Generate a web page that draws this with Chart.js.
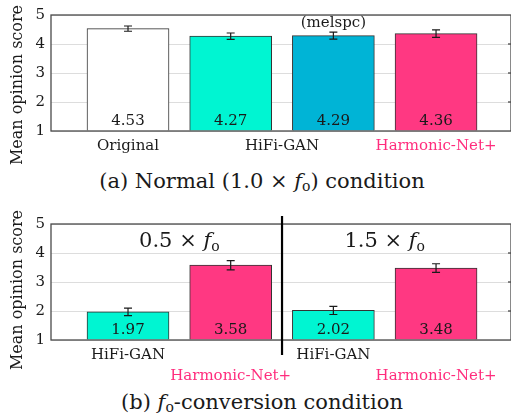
<!DOCTYPE html>
<html>
<head>
<meta charset="utf-8">
<script src="https://cdn.jsdelivr.net/npm/chart.js@4"></script>
<style>
  body { margin: 0; background: #fff; }
  #page { position: relative; width: 511px; height: 415px; overflow: hidden; font-family: "DejaVu Serif", serif; color: #1a1a1a; }
  .box { position: absolute; left: 0; width: 511px; }
  .cap { position: absolute; left: 0; width: 524px; text-align: center; font-size: 21px; line-height: 24px; }
  .cap i { font-style: italic; }
  .cap sub { font-size: 14px; vertical-align: -3px; line-height: 0; }
</style>
</head>
<body>
<div id="page">
  <div class="box" style="top:0;height:165px"><canvas id="normal"></canvas></div>
  <div class="cap" style="top:169px">(a) Normal (1.0 &times; <i>f</i><sub>o</sub>) condition</div>
  <div class="box" style="top:195px;height:195px"><canvas id="conv"></canvas></div>
  <div class="cap" style="top:390px">(b) <i>f</i><sub>o</sub>-conversion condition</div>
</div>
<script>
// values
var normalSystems = ['Original', 'HiFi-GAN', 'HiFi-GAN (melspc)', 'Harmonic-Net+'];
var normalMos = [4.53, 4.27, 4.29, 4.36];
var normalCi = [0.09, 0.11, 0.12, 0.13];

var convSystems = ['HiFi-GAN', 'Harmonic-Net+', 'HiFi-GAN', 'Harmonic-Net+'];
var convMos = [1.97, 3.58, 2.02, 3.48];
var convCi = [0.13, 0.16, 0.14, 0.15];
var convGroups = ['0.5', '1.5'];

var mosTicks = [1, 2, 3, 4, 5];

var FONT = 'DejaVu Serif';
var INK = '#1a1a1a';
var PINK = '#ff2d7d';
var colHifi = '#00f5d2';
var colMel = '#00b4d6';
var colHarm = '#ff3882';

// error bars, value labels and frame
var decorate = {
  id: 'decorate',
  afterDatasetsDraw: function (chart, args, opts) {
    var ctx = chart.ctx, xs = chart.scales.x, ys = chart.scales.y, a = chart.chartArea;
    var vals = chart.data.datasets[0].data;
    ctx.save();
    // frame
    ctx.strokeStyle = '#4a4a4a';
    ctx.lineWidth = 1.3;
    ctx.strokeRect(a.left, a.top, a.right - a.left, a.bottom - a.top);
    mosTicks.slice(1, -1).forEach(function (t) {
      var y = ys.getPixelForValue(t);
      ctx.beginPath();
      ctx.moveTo(a.right - 3, y); ctx.lineTo(a.right, y);
      ctx.stroke();
    });
    ctx.strokeStyle = INK;
    ctx.lineWidth = 1.2;
    ctx.fillStyle = INK;
    ctx.font = '15px "' + FONT + '"';
    ctx.textAlign = 'center';
    ctx.textBaseline = 'middle';
    vals.forEach(function (p, i) {
      var x = xs.getPixelForValue(p.x);
      var e = opts.ci[i];
      var y1 = ys.getPixelForValue(p.y - e), y2 = ys.getPixelForValue(p.y + e);
      ctx.beginPath();
      ctx.moveTo(x, y1); ctx.lineTo(x, y2);
      ctx.moveTo(x - 4, y1); ctx.lineTo(x + 4, y1);
      ctx.moveTo(x - 4, y2); ctx.lineTo(x + 4, y2);
      ctx.stroke();
      ctx.fillText(p.y.toFixed(2), x, a.bottom - 10);
    });
    // y title
    ctx.save();
    ctx.font = '16px "' + FONT + '"';
    ctx.translate(18, (a.top + a.bottom) / 2 + opts.titleShift);
    ctx.rotate(-Math.PI / 2);
    ctx.fillText('Mean opinion score', 0, 0);
    ctx.restore();
    if (opts.extra) opts.extra(chart);
    ctx.restore();
  }
};

function makeChart(id, mos, ci, colors, padTop, xHeight, tickPos, tickLabel, tickColor, lineH, tickPad, titleShift, extra) {
  return new Chart(document.getElementById(id), {
    type: 'bar',
    data: {
      datasets: [{
        data: mos.map(function (v, i) { return { x: i, y: v }; }),
        base: 1,
        backgroundColor: colors,
        borderColor: '#333',
        borderWidth: 1,
        barThickness: 82
      }]
    },
    options: {
      responsive: true,
      maintainAspectRatio: false,
      animation: false,
      layout: { padding: { top: padTop, right: 0, left: 0, bottom: 0 } },
      plugins: {
        legend: { display: false },
        tooltip: { enabled: false },
        decorate: { ci: ci, titleShift: titleShift, extra: extra }
      },
      scales: {
        x: {
          type: 'linear',
          min: -0.75,
          max: 3.73,
          offset: false,
          grid: { display: false, drawTicks: false },
          border: { display: false },
          afterBuildTicks: function (s) { s.ticks = tickPos.map(function (v) { return { value: v }; }); },
          afterFit: function (s) { s.height = xHeight; s.paddingLeft = 0; s.paddingRight = 0; },
          ticks: {
            autoSkip: false,
            maxRotation: 0,
            padding: tickPad,
            font: { family: FONT, size: 15, lineHeight: lineH },
            color: function (c) { return tickColor(c.index); },
            callback: function (v, i) { return tickLabel(i); }
          }
        },
        y: {
          min: 1,
          max: 5,
          afterBuildTicks: function (s) { s.ticks = mosTicks.map(function (v) { return { value: v }; }); },
          afterFit: function (s) { s.width = 51; },
          grid: { color: '#dddddd', drawTicks: false },
          border: { display: false },
          ticks: { padding: 6, color: INK, font: { family: FONT, size: 15 } }
        }
      }
    },
    plugins: [decorate]
  });
}

// (a) normal condition
var normalTickPos = [0, 1.5, 3];
var normalTickText = ['Original', 'HiFi-GAN', 'Harmonic-Net+'];
makeChart('normal', normalMos, normalCi, ['#ffffff', colHifi, colMel, colHarm], 15, 34,
  normalTickPos,
  function (i) { return normalTickText[i]; },
  function (i) { return i === 2 ? PINK : INK; },
  1.2, 6, 12,
  function (chart) {
    var ctx = chart.ctx, xs = chart.scales.x;
    ctx.fillStyle = INK;
    ctx.font = '15px "' + FONT + '"';
    ctx.textAlign = 'center';
    ctx.fillText('(melspc)', xs.getPixelForValue(2), chart.chartArea.top + 8);
  });

// (b) f0-conversion condition
makeChart('conv', convMos, convCi, [colHifi, colHarm, colHifi, colHarm], 29, 50,
  [0, 1, 2, 3],
  function (i) { return i % 2 === 0 ? [convSystems[i], ''] : ['', convSystems[i]]; },
  function (i) { return i % 2 === 0 ? INK : PINK; },
  1.4, 5, 8,
  function (chart) {
    var ctx = chart.ctx, xs = chart.scales.x, a = chart.chartArea;
    // separator between the two conversion ratios
    var sx = xs.getPixelForValue(1.5);
    ctx.strokeStyle = '#000';
    ctx.lineWidth = 2.2;
    ctx.beginPath();
    ctx.moveTo(sx, a.top - 8); ctx.lineTo(sx, a.bottom + 15);
    ctx.stroke();
    ctx.fillStyle = INK;
    ctx.textBaseline = 'middle';
    convGroups.forEach(function (g, k) {
      var cx = xs.getPixelForValue(k * 2 + 0.5);
      var y = a.top + 18;
      var big = '21px "' + FONT + '"';
      var pre = g + ' \u00d7 ';
      ctx.font = big;
      var w1 = ctx.measureText(pre).width;
      ctx.font = 'italic ' + big;
      var w2 = ctx.measureText('f').width;
      ctx.font = '14px "' + FONT + '"';
      var w3 = ctx.measureText('o').width;
      var x0 = cx - (w1 + w2 + w3) / 2;
      ctx.textAlign = 'left';
      ctx.font = big;
      ctx.fillText(pre, x0, y);
      ctx.font = 'italic ' + big;
      ctx.fillText('f', x0 + w1, y);
      ctx.font = '14px "' + FONT + '"';
      ctx.fillText('o', x0 + w1 + w2, y + 5);
    });
  });
</script>
</body>
</html>
